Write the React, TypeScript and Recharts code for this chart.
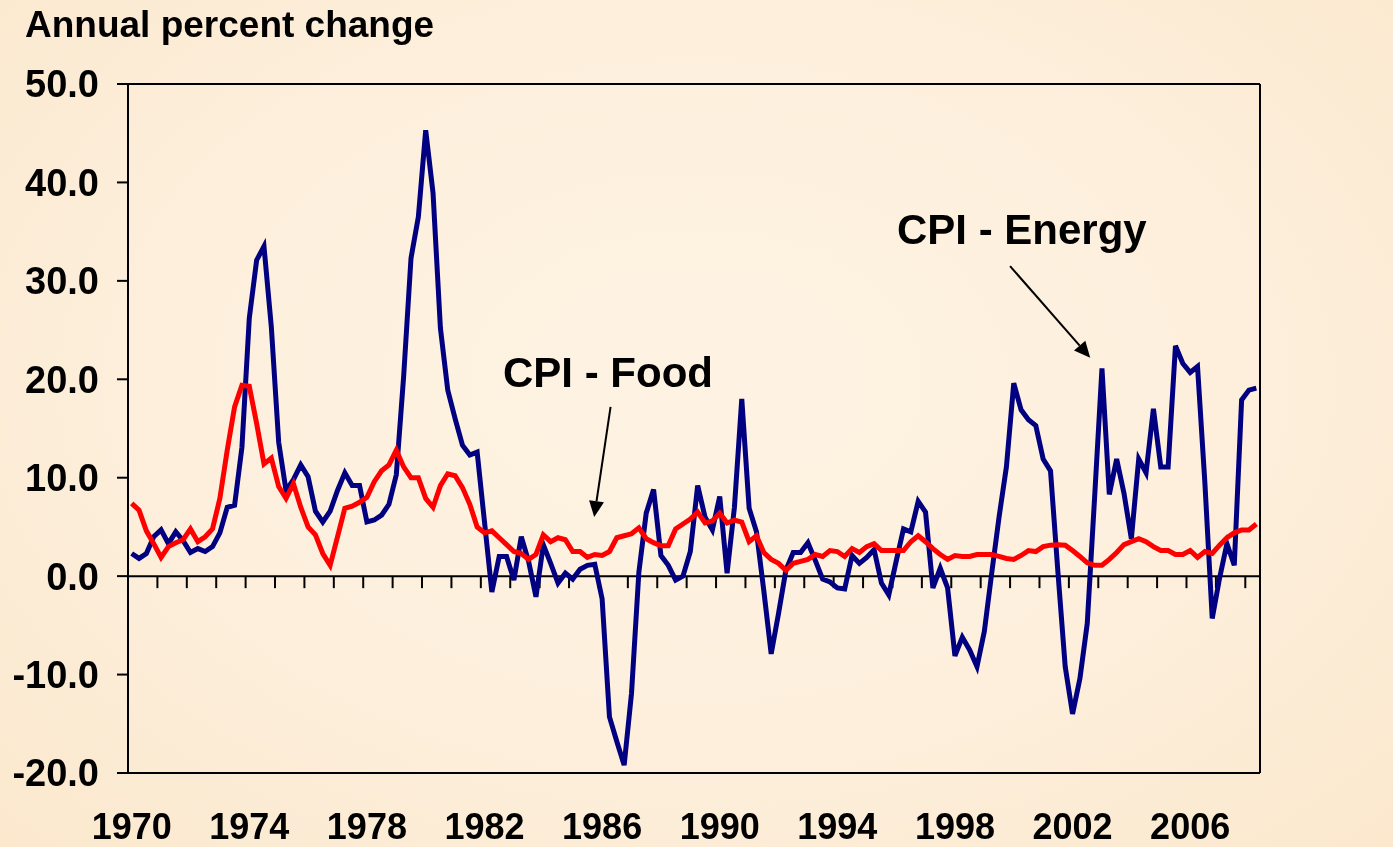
import React from 'react';
import { LineChart, Line, XAxis, YAxis, ReferenceLine } from 'recharts';

const START_YEAR = 1970;

// CPI - Energy, annual percent change, quarterly 1970Q1 - 2008Q2
const energy = [
  2.3, 1.8, 2.3, 4.0, 4.7, 3.3, 4.5, 3.6, 2.4, 2.8, 2.5, 3.0, 4.4, 7.0, 7.2, 13.1, 26.2, 32.1, 33.5, 25.3,
  13.6, 8.7, 9.8, 11.3, 10.1, 6.6, 5.5, 6.6, 8.7, 10.5, 9.2, 9.2, 5.5, 5.7, 6.2, 7.3, 10.3, 20.3, 32.3, 36.5,
  45.3, 38.9, 25.2, 18.9, 16.0, 13.3, 12.3, 12.6, 5.5, -1.6, 2.0, 2.0, -0.4, 4.0, 1.5, -2.1, 3.2, 1.3, -0.7, 0.3,
  -0.3, 0.7, 1.1, 1.2, -2.3, -14.3, -16.8, -19.2, -11.9, 0.4, 6.4, 8.8, 2.1, 1.1, -0.4, 0.0, 2.5, 9.2, 6.0, 4.7,
  8.1, 0.3, 7.0, 18.0, 6.9, 4.5, -1.5, -7.9, -3.8, 0.6, 2.4, 2.4, 3.4, 1.6, -0.3, -0.6, -1.2, -1.3, 2.1, 1.3,
  1.9, 2.7, -0.7, -1.9, 1.5, 4.8, 4.5, 7.6, 6.5, -1.2, 0.8, -1.2, -8.1, -6.2, -7.5, -9.2, -5.6, 0.3, 6.0, 11.1,
  19.6, 16.9, 15.9, 15.3, 11.9, 10.7, 0.5, -9.2, -14.0, -10.4, -4.8, 8.0, 21.1, 8.3, 11.9, 8.4, 3.8, 11.9, 10.5, 17.0,
  11.1, 11.1, 23.4, 21.6, 20.7, 21.3, 9.5, -4.3, -0.2, 3.3, 1.1, 17.9, 18.9, 19.1,
];

// CPI - Food, annual percent change, quarterly 1970Q1 - 2008Q2
const food = [
  7.4, 6.7, 4.6, 3.3, 1.9, 3.0, 3.4, 3.7, 4.8, 3.5, 4.0, 4.8, 7.9, 12.8, 17.2, 19.4, 19.3, 15.5, 11.4, 12.0,
  9.1, 7.9, 9.4, 7.0, 5.0, 4.2, 2.3, 1.1, 4.0, 6.9, 7.1, 7.5, 8.0, 9.6, 10.7, 11.3, 12.8, 11.1, 10.0, 10.0,
  7.9, 7.0, 9.2, 10.4, 10.2, 9.0, 7.3, 5.0, 4.4, 4.6, 3.9, 3.2, 2.5, 2.3, 1.7, 2.2, 4.2, 3.5, 3.9, 3.7,
  2.5, 2.5, 1.9, 2.2, 2.1, 2.5, 3.9, 4.1, 4.3, 4.9, 3.8, 3.4, 3.1, 3.1, 4.8, 5.3, 5.8, 6.5, 5.4, 5.6,
  6.4, 5.4, 5.7, 5.5, 3.5, 4.1, 2.4, 1.7, 1.3, 0.6, 1.3, 1.5, 1.7, 2.2, 2.0, 2.6, 2.5, 2.0, 2.8, 2.4,
  3.0, 3.3, 2.6, 2.6, 2.6, 2.6, 3.5, 4.1, 3.5, 2.8, 2.2, 1.7, 2.1, 2.0, 2.0, 2.2, 2.2, 2.2, 2.0, 1.8,
  1.7, 2.1, 2.6, 2.5, 3.0, 3.15, 3.2, 3.15, 2.6, 2.0, 1.35, 1.1, 1.1, 1.7, 2.4, 3.2, 3.5, 3.8, 3.5, 3.0,
  2.6, 2.6, 2.2, 2.2, 2.6, 1.9, 2.5, 2.3, 3.15, 3.9, 4.4, 4.7, 4.7, 5.3,
];

const yearLabels = ['1970', '1974', '1978', '1982', '1986', '1990', '1994', '1998', '2002', '2006'];
const yTicks = [-20, -10, 0, 10, 20, 30, 40, 50];
const yearBoundaries = Array.from({ length: 38 }, (_, k) => (k + 1) * 4);

const data = energy.map((e, i) => ({
  pos: i + 0.5,
  quarter: `${START_YEAR + Math.floor(i / 4)}Q${(i % 4) + 1}`,
  energy: e,
  food: food[i],
}));

const xTicks = yearLabels.map((y) => (Number(y) - START_YEAR) * 4 + 0.5);
const xLabelFor = (v: number) => {
  const idx = xTicks.findIndex((t) => Math.abs(t - v) < 0.01);
  return idx >= 0 ? yearLabels[idx] : '';
};

const FONT = '"Liberation Sans", Arial, Helvetica, sans-serif';
const yTickStyle = { fontSize: 38, fontWeight: 700, fill: '#000', fontFamily: FONT };
const xTickStyle = { fontSize: 36, fontWeight: 700, fill: '#000', fontFamily: FONT };

const Arrow = (props: any) => {
  const { x1, y1, x2, y2 } = props;
  const dx = x2 - x1;
  const dy = y2 - y1;
  const len = Math.sqrt(dx * dx + dy * dy) || 1;
  const ux = dx / len;
  const uy = dy / len;
  const headLen = 16;
  const headHalf = 7.5;
  const bx = x2 - ux * headLen;
  const by = y2 - uy * headLen;
  const px = -uy;
  const py = ux;
  return (
    <g>
      <line x1={x1} y1={y1} x2={bx} y2={by} stroke="#000" strokeWidth={2} />
      <polygon
        points={`${x2},${y2} ${bx + px * headHalf},${by + py * headHalf} ${bx - px * headHalf},${by - py * headHalf}`}
        fill="#000"
      />
    </g>
  );
};

export default function App() {
  return (
    <div
      style={{
        position: 'fixed',
        left: 0,
        top: 0,
        width: 1393,
        height: 847,
        background:
          'radial-gradient(ellipse at 50% 45%, #FEF3E3 0%, #FDEFDC 55%, #FBE8CD 100%)',
        overflow: 'hidden',
      }}
    >
      <LineChart
        width={1393}
        height={847}
        data={data}
        margin={{ top: 84, right: 0, bottom: 0, left: 0 }}
      >
        <XAxis
          dataKey="pos"
          type="number"
          domain={[0, 154]}
          allowDataOverflow
          ticks={xTicks}
          interval={0}
          tickFormatter={xLabelFor}
          tickLine={false}
          tickSize={0}
          tickMargin={40}
          height={74}
          axisLine={{ stroke: '#000', strokeWidth: 2 }}
          tick={xTickStyle}
        />
        <YAxis
          yAxisId="left"
          domain={[-20, 50]}
          ticks={yTicks}
          interval={0}
          width={128}
          tickSize={11}
          tickMargin={18}
          tickFormatter={(v: number) => v.toFixed(1)}
          axisLine={{ stroke: '#000', strokeWidth: 2 }}
          tickLine={{ stroke: '#000', strokeWidth: 2 }}
          tick={yTickStyle}
        />
        <YAxis
          yAxisId="right"
          orientation="right"
          domain={[-20, 50]}
          ticks={yTicks}
          interval={0}
          width={133}
          tickSize={11}
          tickMargin={19}
          tickFormatter={(v: number) => v.toFixed(1)}
          axisLine={{ stroke: '#000', strokeWidth: 2 }}
          tickLine={{ stroke: '#000', strokeWidth: 2 }}
          tick={{ ...yTickStyle, textAnchor: 'start' }}
        />
        <ReferenceLine yAxisId="left" y={50} stroke="#000" strokeWidth={2} />
        <ReferenceLine yAxisId="left" y={0} stroke="#000" strokeWidth={2} />
        {yearBoundaries.map((b) => (
          <ReferenceLine
            key={b}
            yAxisId="left"
            segment={[
              { x: b, y: 0 },
              { x: b, y: -1.22 },
            ]}
            stroke="#000"
            strokeWidth={2}
          />
        ))}
        <Line
          yAxisId="left"
          type="linear"
          dataKey="energy"
          name="CPI - Energy"
          stroke="#000080"
          strokeWidth={5}
          dot={false}
          activeDot={false}
          isAnimationActive={false}
        />
        <Line
          yAxisId="left"
          type="linear"
          dataKey="food"
          name="CPI - Food"
          stroke="#FF0000"
          strokeWidth={5}
          dot={false}
          activeDot={false}
          isAnimationActive={false}
        />
        <ReferenceLine
          yAxisId="left"
          segment={[
            { x: 65.65, y: 17.2 },
            { x: 63.42, y: 6.0 },
          ]}
          shape={Arrow}
        />
        <ReferenceLine
          yAxisId="left"
          segment={[
            { x: 120.0, y: 31.5 },
            { x: 130.9, y: 22.2 },
          ]}
          shape={Arrow}
        />
      </LineChart>
      <svg
        width={1393}
        height={847}
        style={{ position: 'absolute', left: 0, top: 0, pointerEvents: 'none' }}
      >
        <text x={25} y={37} fontSize={37} fontWeight={700} fontFamily={FONT} fill="#000">
          Annual percent change
        </text>
        <text x={503} y={387} fontSize={42} fontWeight={700} fontFamily={FONT} fill="#000">
          CPI - Food
        </text>
        <text x={897} y={244} fontSize={42} fontWeight={700} fontFamily={FONT} fill="#000">
          CPI - Energy
        </text>
      </svg>
    </div>
  );
}
